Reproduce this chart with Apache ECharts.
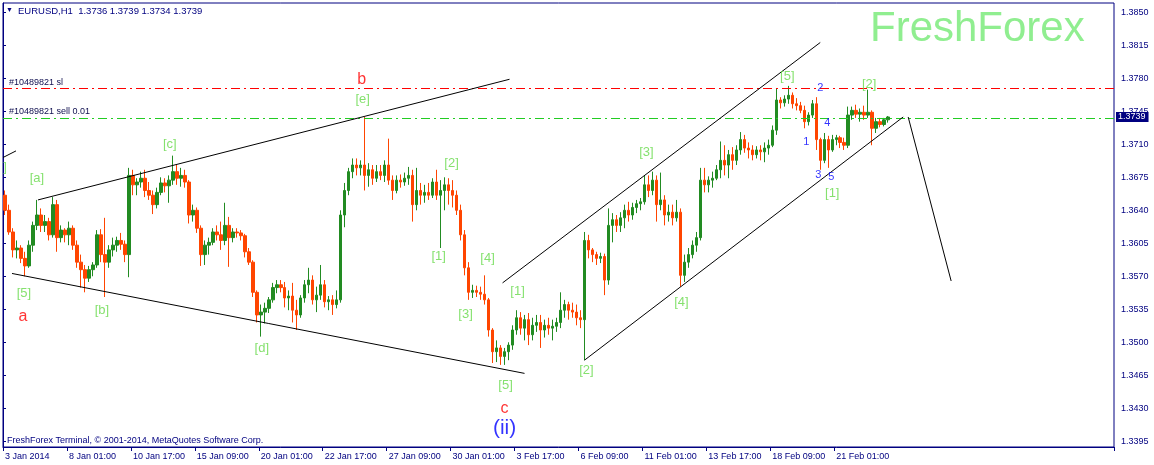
<!DOCTYPE html>
<html><head><meta charset="utf-8">
<script src="https://cdn.jsdelivr.net/npm/echarts@6/dist/echarts.min.js"></script>
<style>html,body{margin:0;padding:0;background:#fff}#c{width:1154px;height:465px}</style>
</head><body><div id="c"></div>
<script>
// ---- data (4-hour groups of the H1 EURUSD chart) ----
const xTickLabels = ['3 Jan 2014','8 Jan 01:00','10 Jan 17:00','15 Jan 09:00','20 Jan 01:00','22 Jan 17:00','27 Jan 09:00','30 Jan 01:00','3 Feb 17:00','6 Feb 09:00','11 Feb 01:00','13 Feb 17:00','18 Feb 09:00','21 Feb 01:00'];
const yTicks = [1.3395,1.3430,1.3465,1.3500,1.3535,1.3570,1.3605,1.3640,1.3675,1.3710,1.3745,1.3780,1.3815,1.3850];

const openP = [
1.3656,1.3640,1.3617,1.3598,1.3600,1.3589,1.3581,1.3603,1.3624,1.3635,
1.3624,1.3628,1.3614,1.3646,1.3611,1.3619,1.3614,1.3621,1.3603,1.3585,
1.3577,1.3568,1.3577,1.3582,1.3614,1.3593,1.3585,1.3598,1.3603,1.3608,
1.3604,1.3593,1.3677,1.3667,1.3670,1.3674,1.3661,1.3656,1.3646,1.3659,
1.3669,1.3666,1.3672,1.3681,1.3674,1.3677,1.3670,1.3635,1.3640,1.3621,
1.3593,1.3603,1.3606,1.3617,1.3614,1.3608,1.3624,1.3611,1.3617,1.3616,
1.3613,1.3596,1.3585,1.3553,1.3529,1.3532,1.3536,1.3545,1.3558,1.3561,
1.3558,1.3547,1.3549,1.3534,1.3529,1.3547,1.3561,1.3566,1.3545,1.3550,
1.3561,1.3543,1.3545,1.3540,1.3545,1.3635,1.3661,1.3681,1.3688,1.3685,
1.3688,1.3677,1.3683,1.3674,1.3681,1.3677,1.3688,1.3672,1.3661,1.3672,
1.3670,1.3674,1.3677,1.3646,1.3661,1.3656,1.3659,1.3656,1.3670,1.3656,
1.3661,1.3667,1.3661,1.3656,1.3640,1.3614,1.3579,1.3553,1.3555,1.3553,
1.3551,1.3545,1.3513,1.3490,1.3494,1.3485,1.3490,1.3497,1.3513,1.3526,
1.3515,1.3524,1.3508,1.3518,1.3521,1.3513,1.3518,1.3515,1.3517,1.3521,
1.3534,1.3540,1.3534,1.3532,1.3526,1.3524,1.3608,1.3598,1.3593,1.3589,
1.3591,1.3566,1.3624,1.3630,1.3624,1.3632,1.3640,1.3635,1.3643,1.3647,
1.3649,1.3667,1.3661,1.3672,1.3646,1.3651,1.3635,1.3638,1.3632,1.3638,
1.3571,1.3585,1.3593,1.3603,1.3611,1.3672,1.3667,1.3672,1.3674,1.3683,
1.3693,1.3688,1.3699,1.3693,1.3704,1.3715,1.3706,1.3704,1.3699,1.3704,
1.3702,1.3706,1.3709,1.3725,1.3757,1.3754,1.3758,1.3762,1.3753,1.3751,
1.3746,1.3734,1.3741,1.3753,1.3715,1.3693,1.3715,1.3704,1.3715,1.3717,
1.3712,1.3709,1.3741,1.3746,1.3742,1.3744,1.3741,1.3744,1.3727,1.3734,
1.3731,1.3736];
const highP = [
1.3661,1.3646,1.3621,1.3608,1.3603,1.3596,1.3608,1.3628,1.3651,1.3642,
1.3635,1.3632,1.3654,1.3651,1.3624,1.3621,1.3628,1.3624,1.3608,1.3593,
1.3582,1.3581,1.3585,1.3619,1.3620,1.3632,1.3603,1.3611,1.3612,1.3616,
1.3608,1.3685,1.3683,1.3674,1.3681,1.3683,1.3670,1.3661,1.3664,1.3675,
1.3674,1.3677,1.3698,1.3688,1.3685,1.3683,1.3672,1.3646,1.3643,1.3624,
1.3608,1.3611,1.3621,1.3624,1.3628,1.3648,1.3633,1.3621,1.3621,1.3619,
1.3615,1.3600,1.3587,1.3555,1.3540,1.3542,1.3548,1.3563,1.3566,1.3566,
1.3564,1.3555,1.3563,1.3545,1.3550,1.3566,1.3579,1.3571,1.3559,1.3582,
1.3566,1.3549,1.3550,1.3555,1.3640,1.3669,1.3685,1.3695,1.3695,1.3693,
1.3739,1.3690,1.3688,1.3688,1.3688,1.3693,1.3716,1.3677,1.3677,1.3678,
1.3680,1.3686,1.3683,1.3685,1.3669,1.3667,1.3669,1.3674,1.3683,1.3672,
1.3675,1.3674,1.3672,1.3661,1.3646,1.3619,1.3585,1.3561,1.3560,1.3559,
1.3571,1.3547,1.3515,1.3502,1.3497,1.3494,1.3500,1.3518,1.3534,1.3532,
1.3529,1.3531,1.3526,1.3529,1.3529,1.3524,1.3526,1.3524,1.3526,1.3553,
1.3545,1.3543,1.3542,1.3540,1.3534,1.3617,1.3614,1.3600,1.3596,1.3595,
1.3594,1.3642,1.3637,1.3635,1.3638,1.3646,1.3649,1.3648,1.3651,1.3653,
1.3677,1.3677,1.3681,1.3677,1.3680,1.3656,1.3646,1.3646,1.3651,1.3642,
1.3593,1.3600,1.3608,1.3617,1.3685,1.3685,1.3676,1.3681,1.3688,1.3713,
1.3709,1.3704,1.3707,1.3709,1.3723,1.3720,1.3712,1.3709,1.3708,1.3709,
1.3712,1.3715,1.3730,1.3769,1.3760,1.3762,1.3772,1.3765,1.3759,1.3755,
1.3751,1.3744,1.3757,1.3760,1.3717,1.3722,1.3719,1.3720,1.3720,1.3719,
1.3717,1.3750,1.3750,1.3752,1.3748,1.3751,1.3768,1.3746,1.3738,1.3738,
1.3738,1.3740];
const lowP = [
1.3635,1.3614,1.3590,1.3589,1.3584,1.3570,1.3579,1.3596,1.3619,1.3617,
1.3617,1.3608,1.3611,1.3596,1.3606,1.3606,1.3603,1.3598,1.3579,1.3558,
1.3553,1.3564,1.3570,1.3579,1.3585,1.3548,1.3579,1.3591,1.3596,1.3598,
1.3585,1.3569,1.3656,1.3656,1.3664,1.3654,1.3651,1.3636,1.3642,1.3656,
1.3659,1.3648,1.3667,1.3667,1.3665,1.3664,1.3626,1.3628,1.3616,1.3581,
1.3582,1.3593,1.3603,1.3608,1.3598,1.3603,1.3580,1.3606,1.3611,1.3608,
1.3590,1.3582,1.3548,1.3521,1.3506,1.3520,1.3531,1.3542,1.3552,1.3553,
1.3537,1.3534,1.3521,1.3513,1.3526,1.3542,1.3552,1.3540,1.3532,1.3545,
1.3537,1.3534,1.3529,1.3536,1.3542,1.3622,1.3656,1.3674,1.3677,1.3677,
1.3661,1.3665,1.3667,1.3670,1.3672,1.3670,1.3667,1.3651,1.3658,1.3664,
1.3666,1.3667,1.3628,1.3640,1.3646,1.3648,1.3651,1.3653,1.3651,1.3600,
1.3640,1.3646,1.3643,1.3635,1.3608,1.3571,1.3545,1.3547,1.3548,1.3545,
1.3540,1.3506,1.3478,1.3479,1.3476,1.3476,1.3481,1.3492,1.3508,1.3508,
1.3502,1.3497,1.3502,1.3511,1.3494,1.3505,1.3508,1.3502,1.3511,1.3515,
1.3526,1.3524,1.3526,1.3518,1.3515,1.3481,1.3589,1.3585,1.3582,1.3584,
1.3550,1.3561,1.3606,1.3617,1.3617,1.3621,1.3628,1.3630,1.3637,1.3640,
1.3646,1.3654,1.3656,1.3628,1.3640,1.3624,1.3628,1.3624,1.3628,1.3559,
1.3564,1.3579,1.3589,1.3596,1.3608,1.3659,1.3659,1.3664,1.3672,1.3674,
1.3677,1.3674,1.3683,1.3688,1.3699,1.3701,1.3695,1.3693,1.3695,1.3693,
1.3691,1.3699,1.3707,1.3720,1.3748,1.3750,1.3753,1.3748,1.3746,1.3743,
1.3727,1.3730,1.3738,1.3704,1.3683,1.3690,1.3685,1.3702,1.3709,1.3706,
1.3704,1.3706,1.3736,1.3738,1.3734,1.3736,1.3738,1.3709,1.3722,1.3728,
1.3729,1.3733];
const closeP = [
1.3640,1.3617,1.3598,1.3600,1.3589,1.3581,1.3603,1.3624,1.3635,1.3624,
1.3628,1.3614,1.3646,1.3611,1.3619,1.3614,1.3621,1.3603,1.3585,1.3577,
1.3568,1.3577,1.3582,1.3614,1.3593,1.3585,1.3598,1.3603,1.3608,1.3604,
1.3593,1.3677,1.3667,1.3670,1.3674,1.3661,1.3656,1.3646,1.3659,1.3669,
1.3666,1.3672,1.3681,1.3674,1.3677,1.3670,1.3635,1.3640,1.3621,1.3593,
1.3603,1.3606,1.3617,1.3614,1.3608,1.3624,1.3611,1.3617,1.3616,1.3613,
1.3596,1.3585,1.3553,1.3529,1.3532,1.3536,1.3545,1.3558,1.3561,1.3558,
1.3547,1.3549,1.3534,1.3529,1.3547,1.3561,1.3566,1.3545,1.3550,1.3561,
1.3543,1.3545,1.3540,1.3545,1.3635,1.3661,1.3681,1.3688,1.3685,1.3688,
1.3677,1.3683,1.3674,1.3681,1.3677,1.3688,1.3672,1.3661,1.3672,1.3670,
1.3674,1.3677,1.3646,1.3661,1.3656,1.3659,1.3656,1.3670,1.3656,1.3661,
1.3667,1.3661,1.3656,1.3640,1.3614,1.3579,1.3553,1.3555,1.3553,1.3551,
1.3545,1.3513,1.3490,1.3494,1.3485,1.3490,1.3497,1.3513,1.3526,1.3515,
1.3524,1.3508,1.3518,1.3521,1.3513,1.3518,1.3515,1.3517,1.3521,1.3534,
1.3540,1.3534,1.3532,1.3526,1.3524,1.3608,1.3598,1.3593,1.3589,1.3591,
1.3566,1.3624,1.3630,1.3624,1.3632,1.3640,1.3635,1.3643,1.3647,1.3649,
1.3667,1.3661,1.3672,1.3646,1.3651,1.3635,1.3638,1.3632,1.3638,1.3571,
1.3585,1.3593,1.3603,1.3611,1.3672,1.3667,1.3672,1.3674,1.3683,1.3693,
1.3688,1.3699,1.3693,1.3704,1.3715,1.3706,1.3704,1.3699,1.3704,1.3702,
1.3706,1.3709,1.3725,1.3757,1.3754,1.3758,1.3762,1.3753,1.3751,1.3746,
1.3734,1.3741,1.3753,1.3715,1.3693,1.3715,1.3704,1.3715,1.3717,1.3712,
1.3709,1.3741,1.3746,1.3742,1.3744,1.3741,1.3744,1.3727,1.3734,1.3731,
1.3736,1.3739];

// order levels
const slLevel = 1.3769;
const orderLevel = 1.3738;
const lastPrice = 1.3739;
const titleText = 'EURUSD,H1  1.3736 1.3739 1.3734 1.3739';

// trend lines: [hours from first bar, price]
const prevLine = [[0, 1.3696], [13, 1.3703]];
const wedgeTop = [[35, 1.3651], [507, 1.3779]];
const wedgeBottom = [[9, 1.3573], [522, 1.3467]];
const channelTop = [[500, 1.3563], [818, 1.3818]];
const channelBottom = [[582, 1.3481], [901, 1.3739]];
const forecast = [[906, 1.3739], [949, 1.3565]];

// wave labels: text, hours from first bar, price
const waveText = [']','[5]','[a]','[b]','[c]','[d]','[e]','[1]','[2]','[3]','[4]','[5]','[1]','[2]','[3]','[4]','[5]','[1]','[2]'];
const waveX    = [2,21,34,99,167,259,360,436,449,463,485,503,515,584,644,679,785,830,867];
const waveY    = [1.3685,1.3552,1.3674,1.3534,1.3710,1.3494,1.3758,1.3591,1.3690,1.3530,1.3589,1.3454,1.3554,1.3470,1.3701,1.3542,1.3782,1.3658,1.3773];
const letterText = ['a','b','c'];
const letterX = [20,359,502];
const letterY = [1.3527,1.3779,1.3430];
const degreeText = ['(ii)'];
const degreeX = [502];
const degreeY = [1.3409];
const minorText = ['1','2','3','4','5'];
const minorX = [804,818,816,825,829];
const minorY = [1.3713,1.3770,1.3678,1.3733,1.3675];

// ---- chart ----
const FONT = "'Liberation Sans', Arial, sans-serif";
const NAVY = '#000080';
const SLOTS = 278;       // 4-hour slots across the plot incl. right shift
const HOURS = SLOTS * 4;
const cats = [];
for (let k = 0; k < SLOTS; k++) {
  cats.push(k % 16 === 0 && k / 16 < xTickLabels.length ? xTickLabels[k / 16] : 's' + k);
}
const labelShown = (i) => i % 16 === 0 && i / 16 < xTickLabels.length;
const candles = openP.map((o, i) => [o, closeP[i], lowP[i], highP[i]]);

function lineSeries(pts) {
  return { type: 'line', xAxisIndex: 1, yAxisIndex: 0, data: pts, symbol: 'none', silent: true,
    lineStyle: { color: '#000000', width: 1 }, z: 5, animation: false };
}
function textSeries(texts, xs, ys, color, size) {
  return { type: 'scatter', xAxisIndex: 1, yAxisIndex: 0, symbolSize: 2, silent: true, z: 6,
    itemStyle: { color: 'rgba(0,0,0,0)' },
    data: texts.map((t, i) => ({ name: t, value: [xs[i], ys[i]] })),
    label: { show: true, position: 'inside', formatter: (p) => p.name, color: color, fontSize: size, fontFamily: FONT },
    animation: false };
}

const chart = echarts.init(document.getElementById('c'), null, { renderer: 'canvas' });
chart.setOption({
  backgroundColor: '#ffffff',
  animation: false,
  grid: { left: 3, right: 40, top: 3, bottom: 18, show: true, borderColor: NAVY, borderWidth: 1, backgroundColor: '#ffffff' },
  xAxis: [
    { type: 'category', data: cats, boundaryGap: true, gridIndex: 0,
      axisLine: { show: true, lineStyle: { color: NAVY } },
      axisTick: { show: true, length: 4, interval: labelShown, lineStyle: { color: NAVY } },
      axisLabel: { interval: labelShown, align: 'left', color: NAVY, fontSize: 9, margin: 5, fontFamily: FONT },
      splitLine: { show: false } },
    { type: 'value', min: 0, max: HOURS, show: false, gridIndex: 0 }
  ],
  yAxis: [{
    type: 'value', position: 'right', min: 1.33889, max: 1.38599,
    splitLine: { show: false },
    axisLine: { show: true, lineStyle: { color: NAVY } },
    axisTick: { show: true, length: 3, customValues: yTicks, lineStyle: { color: NAVY } },
    axisLabel: { customValues: yTicks, formatter: (v) => v.toFixed(4), color: NAVY, fontSize: 9, margin: 7, fontFamily: FONT }
  }],
  graphic: [
    { type: 'text', left: 6, top: 7, style: { text: '\u25BC', fontSize: 7, fill: NAVY, fontFamily: FONT } },
    { type: 'text', left: 18, top: 6, style: { text: titleText, fontSize: 9.5, fill: NAVY, fontFamily: FONT } },
    { type: 'text', left: 870, top: 8, style: { text: 'FreshForex', fontSize: 42, fill: '#90EE90', fontFamily: FONT } },
    { type: 'text', left: 7, top: 436, style: { text: 'FreshForex Terminal, \u00A9 2001-2014, MetaQuotes Software Corp.', fontSize: 9, fill: NAVY, fontFamily: FONT } }
  ],
  series: [
    { type: 'candlestick', xAxisIndex: 0, yAxisIndex: 0, data: candles, barWidth: 3, z: 3,
      itemStyle: { color: '#228B22', color0: '#FF4500', borderColor: '#228B22', borderColor0: '#FF4500', borderWidth: 1 },
      markLine: { symbol: ['none', 'none'], silent: true, animation: false, precision: 4,
        data: [
          { yAxis: slLevel, lineStyle: { color: '#FF0000', type: [9, 4, 2, 4], width: 1 },
            label: { show: true, position: 'insideStartTop', formatter: '#10489821 sl', color: '#101050', fontSize: 9, fontFamily: FONT, distance: [6, 2] } },
          { yAxis: orderLevel, lineStyle: { color: '#22CC22', type: [9, 4, 2, 4], width: 1 },
            label: { show: true, position: 'insideStartTop', formatter: '#10489821 sell 0.01', color: '#101050', fontSize: 9, fontFamily: FONT, distance: [6, 2] } },
          { yAxis: lastPrice, lineStyle: { color: 'rgba(0,0,0,0)', width: 1 },
            label: { show: true, position: 'end', formatter: lastPrice.toFixed(4), color: '#ffffff', backgroundColor: NAVY, padding: [1, 3, 0, 2], fontSize: 9, fontFamily: FONT, distance: 2 } }
        ] } },
    lineSeries(prevLine),
    lineSeries(wedgeTop),
    lineSeries(wedgeBottom),
    lineSeries(channelTop),
    lineSeries(channelBottom),
    lineSeries(forecast),
    textSeries(waveText, waveX, waveY, '#66D94A', 13),
    textSeries(letterText, letterX, letterY, '#FF0000', 16),
    textSeries(degreeText, degreeX, degreeY, '#0000FF', 21),
    textSeries(minorText, minorX, minorY, '#0000FF', 11)
  ]
});
</script></body></html>
